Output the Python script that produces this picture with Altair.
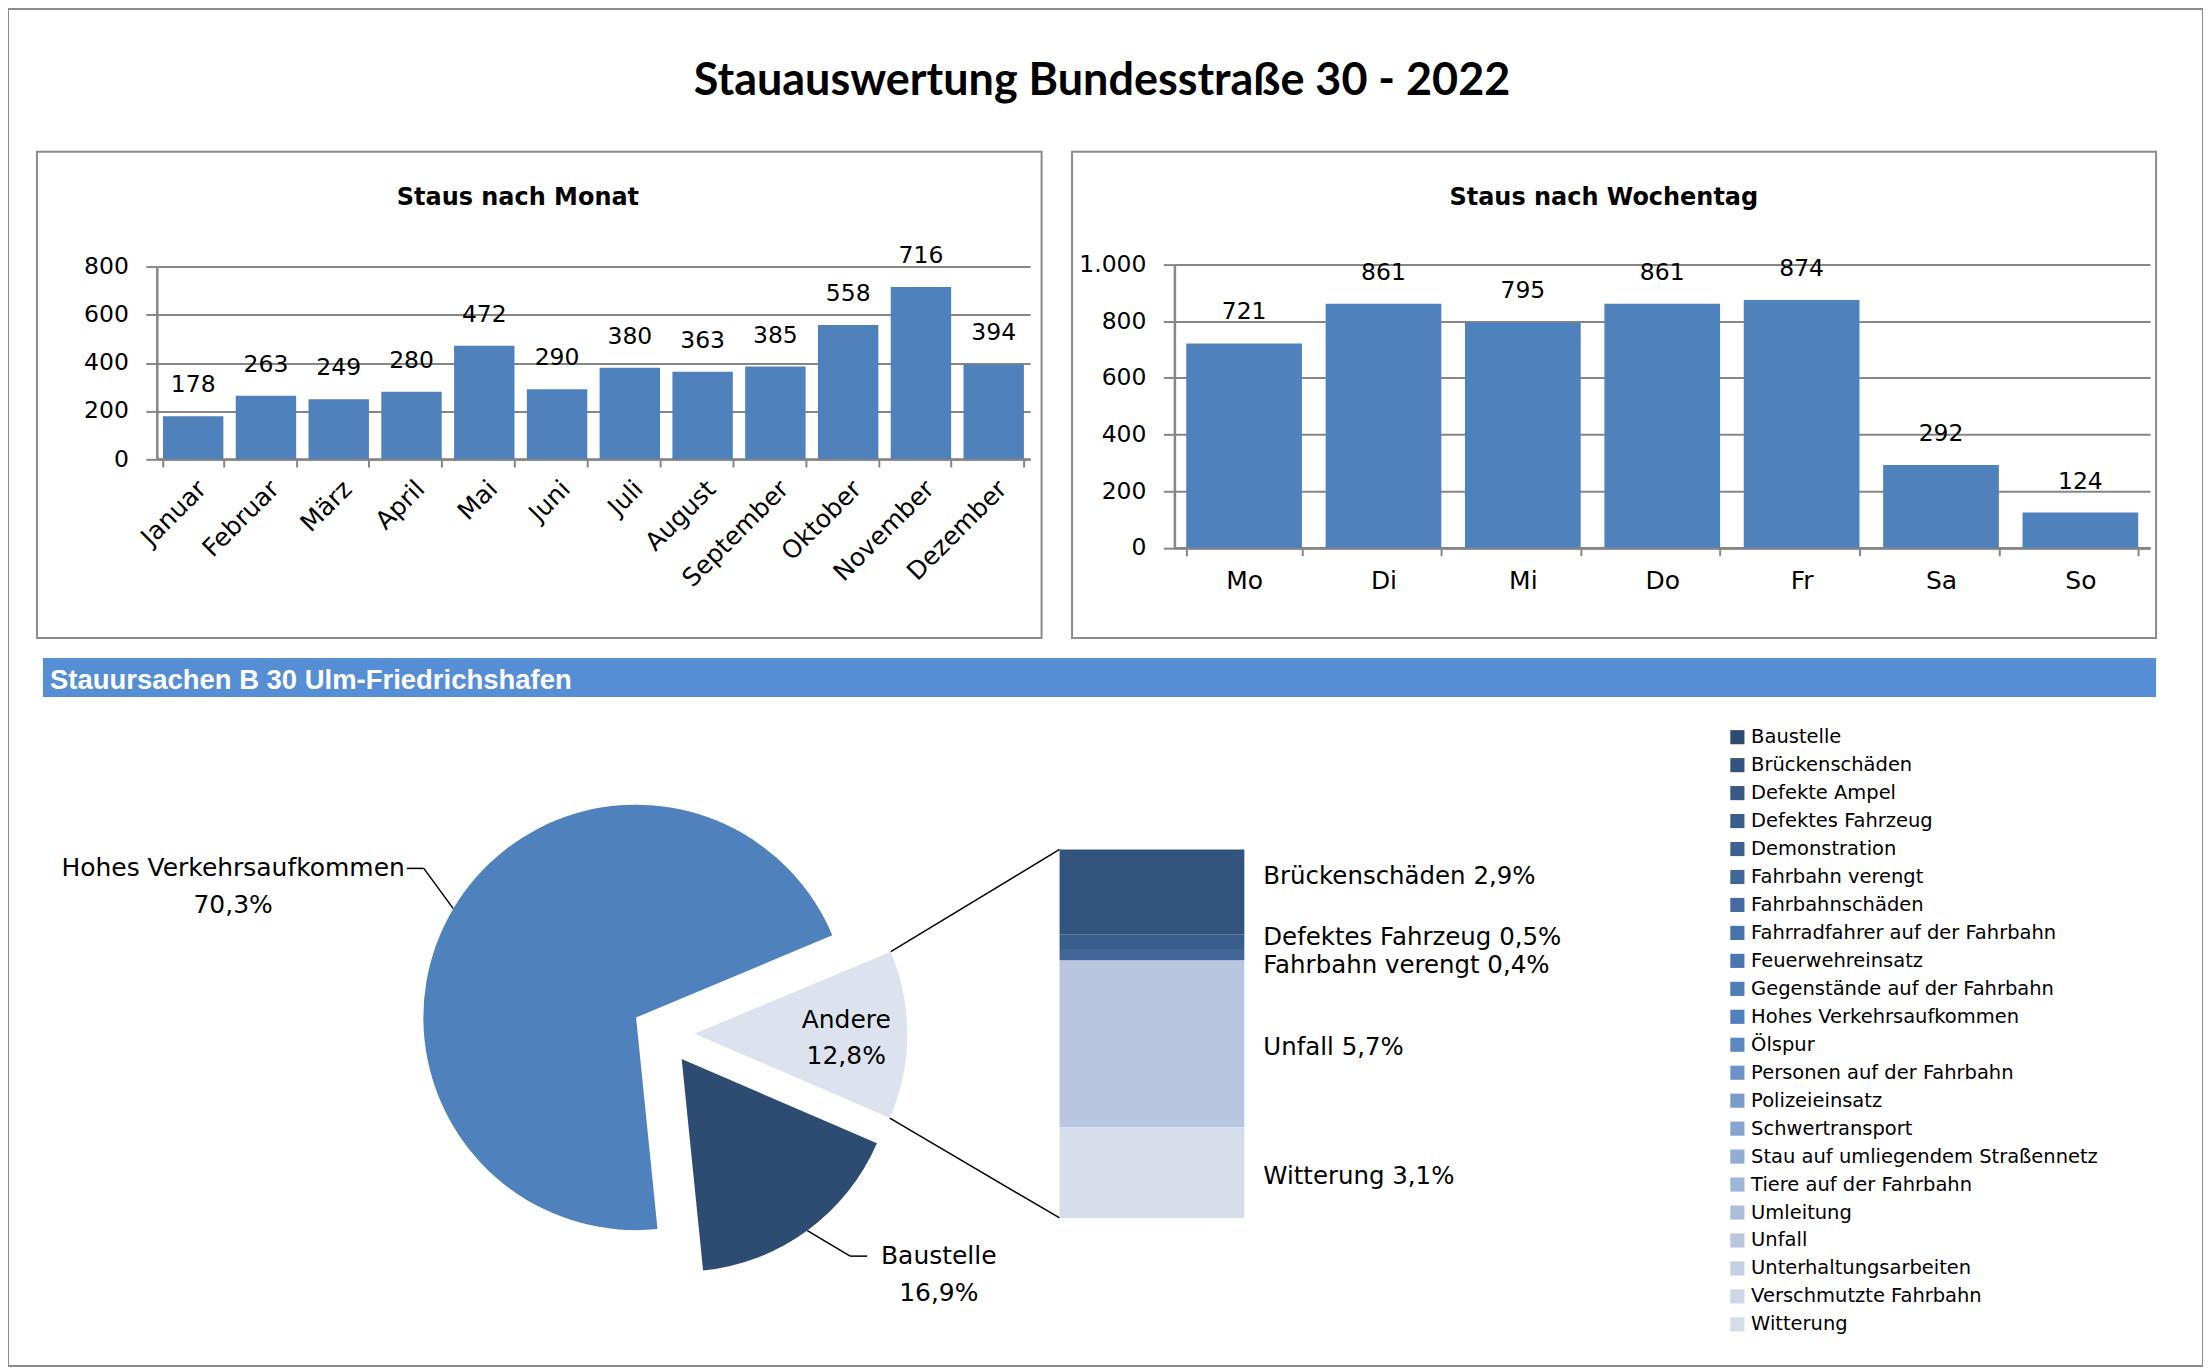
import math
import altair as alt
import pandas as pd

# ------------------------------------------------------------------ data
months = ["Januar", "Februar", "März", "April", "Mai", "Juni", "Juli", "August",
          "September", "Oktober", "November", "Dezember"]
month_counts = [178, 263, 249, 280, 472, 290, 380, 363, 385, 558, 716, 394]

weekdays = ["Mo", "Di", "Mi", "Do", "Fr", "Sa", "So"]
weekday_counts = [721, 861, 795, 861, 874, 292, 124]

pie_causes = ["Andere", "Baustelle", "Hohes Verkehrsaufkommen"]
pie_shares = [12.8, 16.9, 70.3]

detail_causes = ["Brückenschäden", "Defektes Fahrzeug", "Fahrbahn verengt", "Unfall", "Witterung"]
detail_shares = [2.9, 0.5, 0.4, 5.7, 3.1]

legend_causes = ["Baustelle", "Brückenschäden", "Defekte Ampel", "Defektes Fahrzeug",
                 "Demonstration", "Fahrbahn verengt", "Fahrbahnschäden",
                 "Fahrradfahrer auf der Fahrbahn", "Feuerwehreinsatz",
                 "Gegenstände auf der Fahrbahn", "Hohes Verkehrsaufkommen", "Ölspur",
                 "Personen auf der Fahrbahn", "Polizeieinsatz", "Schwertransport",
                 "Stau auf umliegendem Straßennetz", "Tiere auf der Fahrbahn", "Umleitung",
                 "Unfall", "Unterhaltungsarbeiten", "Verschmutzte Fahrbahn", "Witterung"]
legend_colors = ["#2E4B72", "#33547F", "#375985", "#3A5E8C", "#3D6292", "#40669A",
                 "#446CA3", "#4872AB", "#4B77B1", "#4D7CB7", "#4F81BD", "#5B88C1",
                 "#6A92C6", "#789BCB", "#85A4CF", "#92ADD4", "#9EB6D8", "#AABEDC",
                 "#B8C6DF", "#C3CFE4", "#CED7E8", "#D6DDEA"]

main_title = "Stauauswertung Bundesstraße 30 - 2022"
month_title = "Staus nach Monat"
day_title = "Staus nach Wochentag"
section_title = "Stauursachen B 30 Ulm-Friedrichshafen"

# ------------------------------------------------------------------ style / layout
FONT = "DejaVu Sans"
GRAY = "#868686"
FRAME = "#8C8C8C"
BAR = "#4F81BD"
HEADER = "#558ED5"
ANDERE = "#DCE2EE"
W, H = 2198, 1359


def pct(field):
    return f"replace(format(datum.{field}, '.1f'), '.', ',') + '%'"


def X(f):
    return alt.X(f, scale=None, axis=None)


def Y(f):
    return alt.Y(f, scale=None, axis=None)


def note(text, x, y, **kw):
    return alt.Chart(pd.DataFrame({"t": [text]})).mark_text(**kw).encode(
        text="t:N", x=alt.value(x), y=alt.value(y))


def box(x0, x1, y0, y1, **kw):
    return alt.Chart(pd.DataFrame({"t": [0]})).mark_rect(**kw).encode(
        x=alt.value(x0), x2=alt.value(x1), y=alt.value(y0), y2=alt.value(y1))


def bar_panel(cats, counts, x0, x1, y_zero, y_top, y_max, angle, xlab_pad, ylabel_expr=None):
    df = pd.DataFrame({"cat": cats, "n": counts})
    ykw = dict(orient="left", offset=-x0, values=list(range(0, y_max + 1, 200)), title=None,
               labelFont=FONT, labelFontSize=23.5, labelColor="black", labelPadding=17.5,
               tickSize=11, tickColor=GRAY, tickWidth=2, domainColor=GRAY, domainWidth=2.5,
               grid=True, gridColor=GRAY, gridWidth=2)
    if ylabel_expr:
        ykw["labelExpr"] = ylabel_expr
    x = alt.X("cat:N", sort=cats, title=None,
              scale=alt.Scale(range=[x0, x1], paddingInner=0.17, paddingOuter=0.085),
              axis=alt.Axis(orient="bottom", offset=-(H - y_zero), labelAngle=angle,
                            labelFont=FONT, labelFontSize=25, labelColor="black",
                            labelPadding=xlab_pad, labelOverlap=False, tickBand="extent",
                            tickSize=8, tickColor=GRAY, tickWidth=2, domainColor=GRAY,
                            domainWidth=2.5, grid=False))
    y = alt.Y("n:Q", title=None,
              scale=alt.Scale(domain=[0, y_max], range=[y_zero, y_top], nice=False),
              axis=alt.Axis(**ykw))
    base = alt.Chart(df).encode(x=x, y=y)
    bars = base.mark_bar(color=BAR)
    vals = base.mark_text(dy=-24, baseline="alphabetic", font=FONT, fontSize=23.5,
                          color="black").encode(text="n:Q")
    return alt.layer(bars, vals)


left = bar_panel(months, month_counts, 149, 1023.5, 450.7, 258.3, 800, -45, 9)
right = bar_panel(weekdays, weekday_counts, 1168, 2145, 539.5, 255.8, 1000, 0, 13,
                  ylabel_expr="replace(format(datum.value, ','), ',', '.')")

# ------------------------------------------------------------------ pie of causes
START = math.radians(67.3)
TAU = 2 * math.pi
CX, CY = 656.0, 1026.0
R = 213
EXPL = 31.5
LEAD = 50
TILT = math.radians(23)
HSEG = 17
BX0, BX1 = 1053, 1238
BY0, BY1 = 841.7, 1210.7

color_scale = alt.Scale(domain=legend_causes, range=legend_colors)
legend_def = alt.Legend(orient="none", legendX=1722, legendY=719.5, title=None,
                        symbolType="square", symbolSize=200, symbolStrokeWidth=0,
                        symbolOpacity=1, labelFont=FONT, labelFontSize=19.5,
                        labelColor="black", labelLimit=600, labelOffset=4, rowPadding=7.0,
                        padding=0, direction="vertical")

pie_df = pd.DataFrame({"cause": pie_causes, "share": pie_shares,
                       "ord": list(range(len(pie_causes)))})
pie_base = (
    alt.Chart(pie_df)
    .transform_joinaggregate(total="sum(share)")
    .transform_window(cum="sum(share)", sort=[{"field": "ord"}], frame=[None, 0])
    .transform_calculate(f1="datum.cum / datum.total")
    .transform_calculate(f0="(datum.cum - datum.share) / datum.total")
    .transform_calculate(mid=f"{START} + {TAU} * (datum.f0 + datum.f1) / 2")
    .transform_calculate(a0=f"{START} + {TAU} * datum.f0")
    .transform_calculate(a1=f"{START} + {TAU} * datum.f1")
    .transform_calculate(cx=f"{CX} + {EXPL} * sin(datum.mid)")
    .transform_calculate(cy=f"{CY} - {EXPL} * cos(datum.mid)")
    .transform_calculate(pct=pct("share"))
)

arcs = pie_base.mark_arc(outerRadius=R).encode(
    theta=alt.Theta("f0:Q", scale=alt.Scale(domain=[0, 1], range=[START, START + TAU]),
                    stack=None),
    theta2="f1:Q",
    x=X("cx:Q"), y=Y("cy:Q"),
    color=alt.condition("datum.cause === 'Andere'", alt.value(ANDERE),
                        alt.Color("cause:N", scale=color_scale, legend=legend_def)),
)

inner_lbl = (
    pie_base.transform_filter("datum.cause === 'Andere'")
    .transform_calculate(lx=f"datum.cx + {0.713 * R} * sin(datum.mid)")
    .transform_calculate(ly=f"datum.cy - {0.713 * R} * cos(datum.mid) - 15")
    .transform_calculate(txt="datum.cause + '\\n' + datum.pct")
    .mark_text(font=FONT, fontSize=25, lineBreak="\n", lineHeight=36.5, align="center",
               baseline="middle", color="black")
    .encode(x=X("lx:Q"), y=Y("ly:Q"), text="txt:N")
)

outer = (
    pie_base.transform_filter("datum.cause !== 'Andere'")
    .transform_calculate(side="sin(datum.mid) >= 0 ? 1 : -1")
    .transform_calculate(lang=f"datum.mid - datum.side * {TILT}")
    .transform_calculate(ex=f"datum.cx + {R} * sin(datum.mid)")
    .transform_calculate(ey=f"datum.cy - {R} * cos(datum.mid)")
    .transform_calculate(kx=f"datum.ex + {LEAD} * sin(datum.lang)")
    .transform_calculate(ky=f"datum.ey - {LEAD} * cos(datum.lang)")
    .transform_calculate(hx=f"datum.kx + datum.side * {HSEG}")
    .transform_calculate(tx=f"datum.kx + datum.side * ({HSEG + 6} + length(datum.cause) * 7.3)")
    .transform_calculate(ty="datum.ky")
    .transform_calculate(txt="datum.cause + '\\n' + datum.pct")
)
leader1 = outer.mark_rule(color="black", strokeWidth=1.5).encode(
    x=X("ex:Q"), y=Y("ey:Q"), x2="kx:Q", y2="ky:Q")
leader2 = outer.mark_rule(color="black", strokeWidth=1.5).encode(
    x=X("kx:Q"), y=Y("ky:Q"), x2="hx:Q", y2="ky:Q")
outer_lbl = outer.mark_text(font=FONT, fontSize=25, lineBreak="\n", lineHeight=37,
                            align="center", baseline="middle", color="black").encode(
    x=X("tx:Q"), y=Y("ty:Q"), text="txt:N")

connectors = (
    pie_base.transform_filter("datum.cause === 'Andere'")
    .transform_fold(["a0", "a1"], as_=["edge", "ang"])
    .transform_calculate(px=f"datum.cx + {R} * sin(datum.ang)")
    .transform_calculate(py=f"datum.cy - {R} * cos(datum.ang)")
    .transform_calculate(qx=f"{BX0}")
    .transform_calculate(qy=f"datum.edge === 'a0' ? {BY0} : {BY1}")
    .mark_rule(color="black", strokeWidth=1.5)
    .encode(x=X("px:Q"), y=Y("py:Q"), x2="qx:Q", y2="qy:Q")
)

det_df = pd.DataFrame({"cause": detail_causes, "share": detail_shares,
                       "ord": list(range(len(detail_causes)))})
det_base = (
    alt.Chart(det_df)
    .transform_joinaggregate(total="sum(share)")
    .transform_window(cum="sum(share)", sort=[{"field": "ord"}], frame=[None, 0])
    .transform_calculate(f1="datum.cum / datum.total")
    .transform_calculate(f0="(datum.cum - datum.share) / datum.total")
    .transform_calculate(fm="(datum.f0 + datum.f1) / 2")
    .transform_calculate(pct=pct("share"))
)
segs = det_base.mark_rect().encode(
    x=alt.value(BX0), x2=alt.value(BX1),
    y=alt.Y("f0:Q", scale=alt.Scale(domain=[0, 1], range=[BY0, BY1], nice=False, zero=False),
            axis=None),
    y2="f1:Q",
    color=alt.Color("cause:N", scale=color_scale, legend=legend_def),
)
det_lbl = (
    det_base
    .transform_calculate(nudge="datum.cause === 'Brückenschäden' ? -15 : "
                               "(datum.cause === 'Defektes Fahrzeug' ? -4 : "
                               "(datum.cause === 'Fahrbahn verengt' ? 11 : 4))")
    .transform_calculate(ly=f"{BY0} + ({BY1} - {BY0}) * datum.fm + datum.nudge")
    .transform_calculate(txt="datum.cause + ' ' + datum.pct")
    .mark_text(font=FONT, fontSize=24.5, align="left", baseline="middle", color="black")
    .encode(x=alt.value(1257), y=Y("ly:Q"), text="txt:N")
)

# ------------------------------------------------------------------ frames, titles
decor = [
    box(29, 1035, 143, 630, fillOpacity=0, stroke=FRAME, strokeWidth=2),
    box(1065.5, 2151, 143, 630, fillOpacity=0, stroke=FRAME, strokeWidth=2),
    box(35, 2151, 650, 689, color=HEADER),
    note(main_title, 1095.5, 86.5, font="Lato", fontWeight="bold", fontSize=45,
         align="center", baseline="alphabetic", color="black"),
    note(month_title, 510.6, 196, font=FONT, fontWeight="bold", fontSize=24,
         align="center", baseline="alphabetic", color="black"),
    note(day_title, 1598, 196, font=FONT, fontWeight="bold", fontSize=24,
         align="center", baseline="alphabetic", color="black"),
    note(section_title, 42, 681.5, font="Liberation Sans", fontWeight="bold", fontSize=27.5,
         align="left", baseline="alphabetic", color="white"),
]

chart = alt.layer(
    *decor, left, right, connectors, arcs, inner_lbl, leader1, leader2, outer_lbl, segs, det_lbl
).resolve_scale(x="independent", y="independent").properties(
    width=W, height=H, padding=0
).configure(background="white").configure_view(stroke=FRAME, strokeWidth=2)

chart.save("out.html", embed_options={"renderer": "svg", "actions": False})
